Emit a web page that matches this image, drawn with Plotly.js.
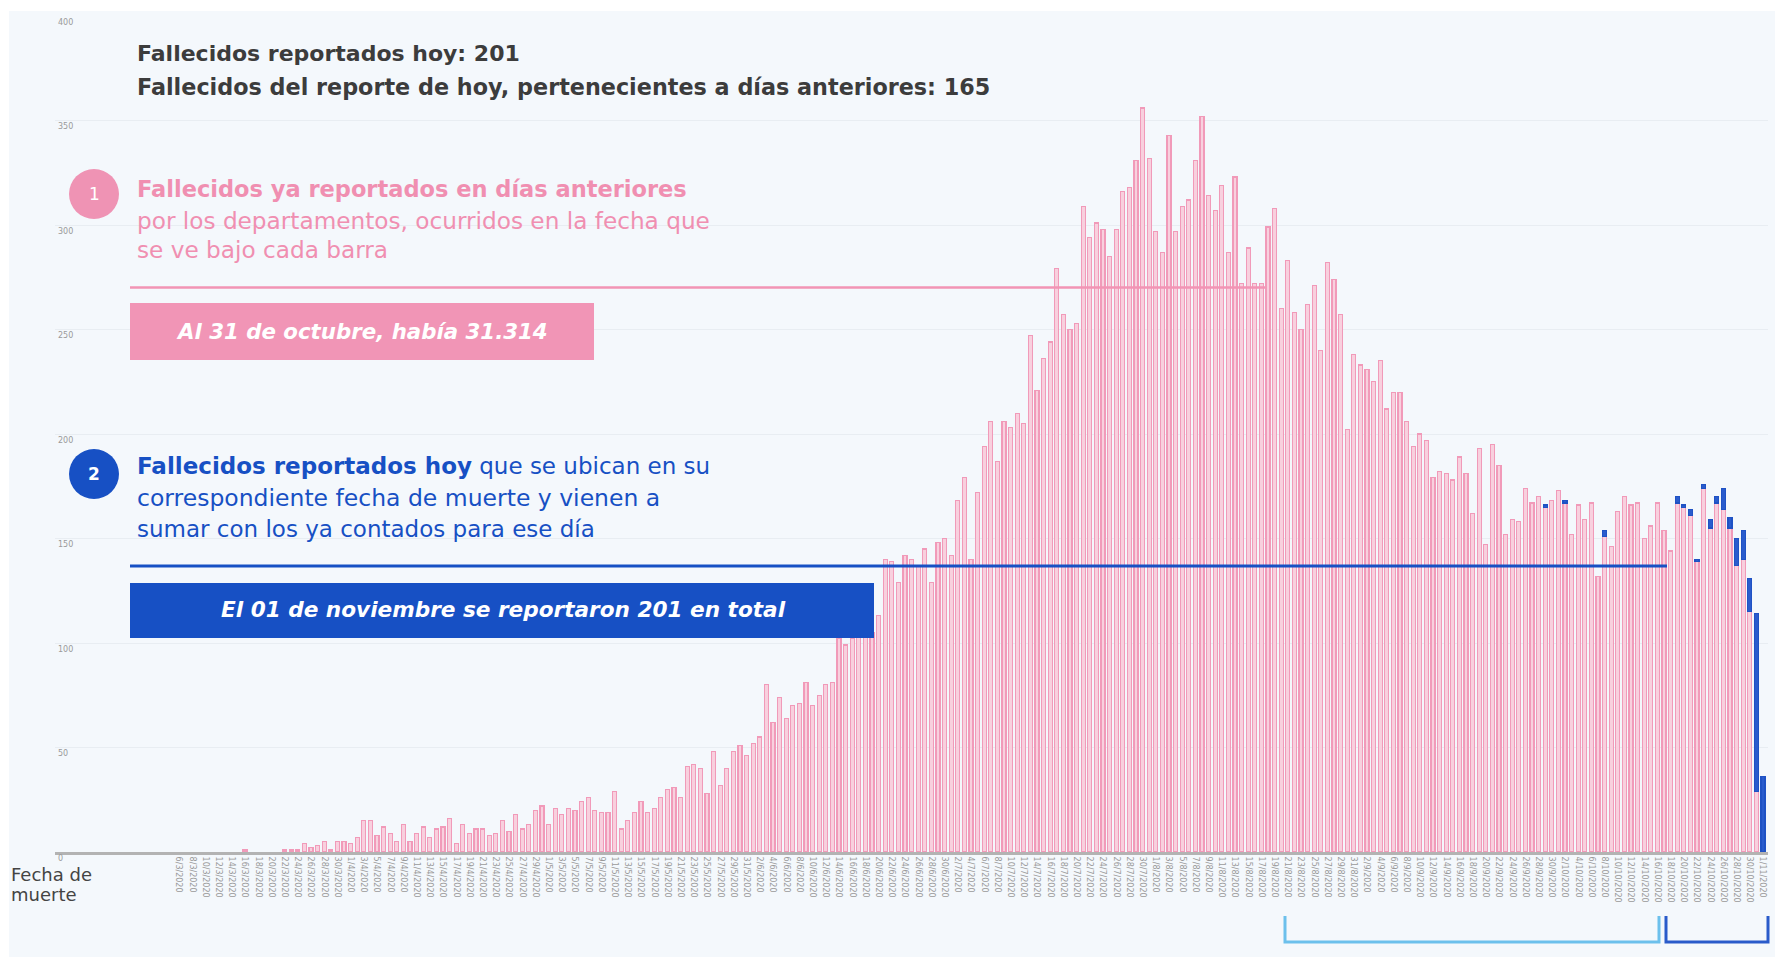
<!DOCTYPE html>
<html>
<head>
<meta charset="utf-8">
<script src="https://cdn.plot.ly/plotly-3.0.1.min.js"></script>
<style>
html,body{margin:0;padding:0;background:#ffffff;}
#chart{width:1775px;height:957px;}
</style>
</head>
<body>
<div id="chart"></div>
<script>
// Fecha de muerte (categorías)
const fechas = [
"6/3/2020","7/3/2020","8/3/2020","9/3/2020","10/3/2020","11/3/2020","12/3/2020","13/3/2020","14/3/2020","15/3/2020",
"16/3/2020","17/3/2020","18/3/2020","19/3/2020","20/3/2020","21/3/2020","22/3/2020","23/3/2020","24/3/2020","25/3/2020",
"26/3/2020","27/3/2020","28/3/2020","29/3/2020","30/3/2020","31/3/2020",
"1/4/2020","2/4/2020","3/4/2020","4/4/2020","5/4/2020","6/4/2020","7/4/2020","8/4/2020","9/4/2020","10/4/2020",
"11/4/2020","12/4/2020","13/4/2020","14/4/2020","15/4/2020","16/4/2020","17/4/2020","18/4/2020","19/4/2020","20/4/2020",
"21/4/2020","22/4/2020","23/4/2020","24/4/2020","25/4/2020","26/4/2020","27/4/2020","28/4/2020","29/4/2020","30/4/2020",
"1/5/2020","2/5/2020","3/5/2020","4/5/2020","5/5/2020","6/5/2020","7/5/2020","8/5/2020","9/5/2020","10/5/2020",
"11/5/2020","12/5/2020","13/5/2020","14/5/2020","15/5/2020","16/5/2020","17/5/2020","18/5/2020","19/5/2020","20/5/2020",
"21/5/2020","22/5/2020","23/5/2020","24/5/2020","25/5/2020","26/5/2020","27/5/2020","28/5/2020","29/5/2020","30/5/2020","31/5/2020",
"1/6/2020","2/6/2020","3/6/2020","4/6/2020","5/6/2020","6/6/2020","7/6/2020","8/6/2020","9/6/2020","10/6/2020",
"11/6/2020","12/6/2020","13/6/2020","14/6/2020","15/6/2020","16/6/2020","17/6/2020","18/6/2020","19/6/2020","20/6/2020",
"21/6/2020","22/6/2020","23/6/2020","24/6/2020","25/6/2020","26/6/2020","27/6/2020","28/6/2020","29/6/2020","30/6/2020",
"1/7/2020","2/7/2020","3/7/2020","4/7/2020","5/7/2020","6/7/2020","7/7/2020","8/7/2020","9/7/2020","10/7/2020",
"11/7/2020","12/7/2020","13/7/2020","14/7/2020","15/7/2020","16/7/2020","17/7/2020","18/7/2020","19/7/2020","20/7/2020",
"21/7/2020","22/7/2020","23/7/2020","24/7/2020","25/7/2020","26/7/2020","27/7/2020","28/7/2020","29/7/2020","30/7/2020","31/7/2020",
"1/8/2020","2/8/2020","3/8/2020","4/8/2020","5/8/2020","6/8/2020","7/8/2020","8/8/2020","9/8/2020","10/8/2020",
"11/8/2020","12/8/2020","13/8/2020","14/8/2020","15/8/2020","16/8/2020","17/8/2020","18/8/2020","19/8/2020","20/8/2020",
"21/8/2020","22/8/2020","23/8/2020","24/8/2020","25/8/2020","26/8/2020","27/8/2020","28/8/2020","29/8/2020","30/8/2020","31/8/2020",
"1/9/2020","2/9/2020","3/9/2020","4/9/2020","5/9/2020","6/9/2020","7/9/2020","8/9/2020","9/9/2020","10/9/2020",
"11/9/2020","12/9/2020","13/9/2020","14/9/2020","15/9/2020","16/9/2020","17/9/2020","18/9/2020","19/9/2020","20/9/2020",
"21/9/2020","22/9/2020","23/9/2020","24/9/2020","25/9/2020","26/9/2020","27/9/2020","28/9/2020","29/9/2020","30/9/2020",
"1/10/2020","2/10/2020","3/10/2020","4/10/2020","5/10/2020","6/10/2020","7/10/2020","8/10/2020","9/10/2020","10/10/2020",
"11/10/2020","12/10/2020","13/10/2020","14/10/2020","15/10/2020","16/10/2020","17/10/2020","18/10/2020","19/10/2020","20/10/2020",
"21/10/2020","22/10/2020","23/10/2020","24/10/2020","25/10/2020","26/10/2020","27/10/2020","28/10/2020","29/10/2020","30/10/2020","31/10/2020",
"1/11/2020"
];

// Fallecidos ya reportados en días anteriores (rosado)
const reportadosAntes = [
0,0,0,0,0,0,0,0,0,0,
1,0,0,0,0,0,1,1,1,
4,2,3,5,1,5,5,4,7,15,15,8,12,9,5,13,5,9,12,7,11,12,16,4,13,9,11,11,8,9,
15,10,18,11,13,20,22,13,21,18,21,20,24,26,20,19,19,29,11,15,
19,24,19,21,26,30,31,26,41,42,40,28,48,32,40,48,51,46,52,55,
80,62,74,64,70,71,81,70,75,80,
81,102,99,102,104,104,105,113,140,139,
129,142,140,137,145,129,148,150,142,168,
179,140,172,194,206,187,206,203,210,205,
247,221,236,244,279,257,250,253,309,294,
301,298,285,298,316,318,331,356,332,297,
287,343,297,309,312,331,352,314,307,319,
287,323,272,289,272,272,299,308,260,283,
258,250,262,271,240,282,274,257,202,238,
233,231,225,235,212,220,220,206,194,200,
197,179,182,181,178,189,181,162,193,147,
195,185,152,159,158,174,167,170,165,168,
173,167,152,166,159,167,132,151,146,163,
170,166,167,150,156,167,154,144,167,165,
161,139,174,155,167,164,155,137,140,115,
29,0
];

// Fallecidos reportados hoy (azul), ubicados en su fecha de muerte
const fechasHoy = ["29/9/2020","2/10/2020","8/10/2020","19/10/2020","20/10/2020","21/10/2020","22/10/2020",
  "23/10/2020","24/10/2020","25/10/2020","26/10/2020","27/10/2020","28/10/2020","29/10/2020","30/10/2020","31/10/2020","1/11/2020"];
const reportadosHoy = [1,1,3,3,1,3,1,2,4,3,10,5,13,14,16,85,36];

// Etiquetas del eje X: una cada dos días
const etiquetasX = fechas.filter((d, i) => i % 2 === 0);
const etiquetasY = [0, 50, 100, 150, 200, 250, 300, 350, 400];

const W = 1775, H = 957;
const L = 55, R = 7, T = 16, B = 105;
const PW = W - L - R, PH = H - T - B;
const px = X => (X - L) / PW;
const py = Y => (H - B - Y) / PH;

const PINK = '#f08fb1';
const BLUE = '#1750c4';
const DARK = '#3c3c3c';
const FONT = 'DejaVu Sans, sans-serif';

const traces = [
  {
    type: 'bar', x: fechas, y: reportadosAntes, name: 'Ya reportados',
    width: 0.62,
    marker: {color: '#f8d0de', line: {color: '#f19ab9', width: reportadosAntes.map(v => v > 0 ? 1.2 : 0)}},
    hoverinfo: 'x+y'
  },
  {
    type: 'bar', x: fechasHoy, y: reportadosHoy, name: 'Reportados hoy',
    width: 0.62,
    marker: {color: '#2a5ccd', line: {color: '#1f52c4', width: 1.2}},
    hoverinfo: 'x+y'
  }
];

function txt(text, X, Y, opts) {
  return Object.assign({
    text: text, xref: 'paper', yref: 'paper', x: px(X), y: py(Y),
    xanchor: 'left', yanchor: 'middle', showarrow: false,
    font: {family: FONT, size: 22, color: DARK}
  }, opts || {});
}

const annotations = [
  txt('<b>Fallecidos reportados hoy: 201</b>', 135, 54),
  txt('<b>Fallecidos del reporte de hoy, pertenecientes a días anteriores: 165</b>', 135, 87, {font: {family: FONT, size: 22.3, color: DARK}}),
  txt('1', 94, 194, {xanchor: 'center', font: {family: FONT, size: 17, color: '#ffffff'}}),
  txt('<b>Fallecidos ya reportados en días anteriores</b>', 135, 189, {font: {family: FONT, size: 22.5, color: PINK}}),
  txt('por los departamentos, ocurridos en la fecha que', 135, 220, {font: {family: FONT, size: 23.2, color: PINK}}),
  txt('se ve bajo cada barra', 135, 249, {font: {family: FONT, size: 23.2, color: PINK}}),
  txt('<b><i>Al 31 de octubre, había 31.314</i></b>', 362, 331, {xanchor: 'center', font: {family: FONT, size: 21.3, color: '#ffffff'}}),
  txt('<b>2</b>', 94, 474, {xanchor: 'center', font: {family: FONT, size: 17, color: '#ffffff'}}),
  txt('<b>Fallecidos reportados hoy</b> que se ubican en su', 135, 466, {font: {family: FONT, size: 23, color: BLUE}}),
  txt('correspondiente fecha de muerte y vienen a', 135, 498, {font: {family: FONT, size: 23.5, color: BLUE}}),
  txt('sumar con los ya contados para ese día', 135, 529, {font: {family: FONT, size: 23, color: BLUE}}),
  txt('<b><i>El 01 de noviembre se reportaron 201 en total</i></b>', 503, 609, {xanchor: 'center', font: {family: FONT, size: 21.6, color: '#ffffff'}}),
  txt('Fecha de', 9, 874, {font: {family: FONT, size: 18, color: '#444444'}}),
  txt('muerte', 9, 894, {font: {family: FONT, size: 18, color: '#444444'}})
];

function rect(x0, y0, x1, y1, color, layer) {
  return {type: 'rect', xref: 'paper', yref: 'paper', x0: px(x0), x1: px(x1), y0: py(y1), y1: py(y0),
          fillcolor: color, line: {width: 0}, layer: layer || 'above'};
}
function circ(cx, cy, r, color) {
  return {type: 'circle', xref: 'paper', yref: 'paper', x0: px(cx - r), x1: px(cx + r), y0: py(cy + r), y1: py(cy - r),
          fillcolor: color, line: {width: 0}, layer: 'above'};
}
function hline(x0, x1, y, color, w) {
  return {type: 'line', xref: 'paper', yref: 'paper', x0: px(x0), x1: px(x1), y0: py(y), y1: py(y),
          line: {color: color, width: w}, layer: 'above'};
}
function bracket(x0, x1, ytop, ybot, color) {
  const p = 'M ' + px(x0) + ',' + py(ytop) + ' L ' + px(x0) + ',' + py(ybot) +
            ' L ' + px(x1) + ',' + py(ybot) + ' L ' + px(x1) + ',' + py(ytop);
  return {type: 'path', xref: 'paper', yref: 'paper', path: p, line: {color: color, width: 3}, layer: 'above'};
}

const shapes = [
  rect(0, 0, W, 11, '#ffffff', 'below'),
  rect(0, 0, 9, H, '#ffffff', 'below'),
  hline(130, 1265, 287.5, '#f294b5', 2.5),
  hline(130, 1667, 566, BLUE, 3),
  rect(130, 303, 594, 360, '#f195b6'),
  rect(130, 583, 874, 638, '#1750c4'),
  circ(94, 194, 25, '#ef93b4'),
  circ(94, 474, 25, '#1750c4'),
  bracket(1285, 1659, 916, 942, '#6cc0ec'),
  bracket(1666, 1768, 916, 942, '#2a5bca')
];

const layout = {
  width: W, height: H,
  margin: {l: L, r: R, t: T, b: B, pad: 0},
  paper_bgcolor: '#f4f8fc',
  plot_bgcolor: 'rgba(0,0,0,0)',
  barmode: 'stack',
  showlegend: false,
  font: {family: FONT},
  xaxis: {
    type: 'category',
    range: [-18.79, 240.76],
    tickmode: 'array', tickvals: etiquetasX, ticktext: etiquetasX,
    tickangle: 90,
    tickfont: {family: 'DejaVu Sans, sans-serif', size: 8, color: '#9a9a9a'},
    ticks: '', showgrid: false, zeroline: false,
    showline: true, linecolor: '#b3b3b3', linewidth: 3,
    fixedrange: true
  },
  yaxis: {
    range: [0, 400],
    tickmode: 'array', tickvals: etiquetasY, ticktext: etiquetasY.map(String),
    ticklabelposition: 'inside',
    ticklabeloverflow: 'allow',
    ticklabelshift: 6,
    tickfont: {family: 'DejaVu Sans, sans-serif', size: 8, color: '#9a9a9a'},
    showgrid: true, gridcolor: '#e8edf2', gridwidth: 1,
    zeroline: false, showline: false, ticks: '',
    fixedrange: true
  },
  annotations: annotations,
  shapes: shapes
};

Plotly.newPlot('chart', traces, layout, {displayModeBar: false, staticPlot: true});
</script>
</body>
</html>
